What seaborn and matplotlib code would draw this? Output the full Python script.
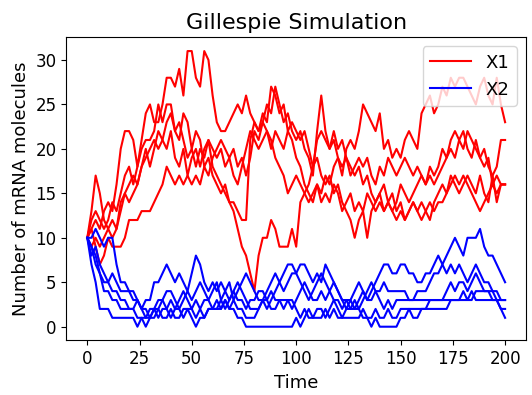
import matplotlib
matplotlib.use("Agg")
import matplotlib.pyplot as plt
import seaborn as sns
import pandas as pd

# sample times shared by every trajectory
time = list(range(0, 201, 2))

# X1 (mRNA species 1) trajectories
x1_run1 = [10, 11, 12, 11, 13, 14, 13, 16, 20, 22,
           22, 21, 18, 21, 24, 25, 23, 23, 25, 28,
           28, 27, 29, 26, 31, 31, 28, 27, 31, 30,
           26, 23, 22, 22, 23, 24, 25, 24, 26, 24,
           23, 22, 24, 23, 27, 26, 24, 25, 22, 23,
           22, 21, 22, 20, 18, 19, 17, 16, 17, 15,
           16, 14, 13, 12, 10, 12, 13, 10, 13, 14,
           15, 13, 14, 13, 14, 16, 15, 14, 15, 16,
           17, 16, 18, 17, 18, 20, 19, 21, 22, 21,
           22, 20, 19, 21, 19, 18, 19, 16, 17, 16,
           16]
x1_run2 = [10, 12, 13, 12, 11, 12, 14, 13, 15, 17,
           18, 16, 18, 20, 21, 21, 22, 25, 23, 25,
           25, 22, 21, 24, 23, 20, 22, 21, 18, 19,
           17, 16, 15, 16, 14, 14, 13, 12, 12, 21,
           23, 22, 23, 25, 24, 27, 25, 23, 24, 22,
           21, 22, 20, 19, 17, 22, 26, 22, 20, 21,
           19, 17, 20, 21, 20, 22, 25, 24, 23, 22,
           24, 20, 21, 19, 20, 19, 21, 22, 21, 20,
           24, 25, 26, 24, 25, 27, 26, 28, 27, 28,
           28, 27, 26, 25, 27, 28, 26, 25, 28, 25,
           23]
x1_run3 = [10, 9, 10, 9, 10, 11, 10, 11, 13, 15,
           14, 15, 16, 18, 19, 20, 21, 20, 21, 23,
           24, 22, 23, 21, 19, 20, 18, 20, 19, 21,
           18, 17, 16, 15, 14, 13, 11, 9, 8, 6,
           4, 8, 10, 10, 12, 11, 9, 9, 9, 11,
           9, 14, 15, 16, 18, 21, 22, 21, 20, 22,
           20, 21, 19, 18, 17, 18, 16, 17, 15, 14,
           15, 16, 14, 15, 13, 14, 12, 13, 14, 13,
           14, 13, 12, 14, 15, 16, 15, 17, 16, 15,
           16, 17, 16, 15, 17, 15, 14, 17, 18, 21,
           21]
x1_run4 = [10, 11, 9, 7, 8, 10, 9, 9, 9, 10,
           12, 12, 12, 13, 13, 13, 14, 15, 16, 18,
           17, 16, 17, 16, 17, 16, 17, 16, 18, 17,
           19, 20, 21, 20, 19, 20, 18, 19, 17, 19,
           22, 21, 23, 22, 20, 22, 21, 20, 22, 21,
           19, 18, 16, 15, 14, 16, 14, 15, 14, 16,
           15, 13, 14, 15, 13, 14, 13, 15, 14, 13,
           14, 13, 14, 13, 12, 13, 12, 13, 14, 13,
           12, 13, 14, 13, 14, 14, 15, 16, 17, 16,
           17, 16, 15, 14, 13, 14, 15, 16, 15, 16,
           16]
x1_run5 = [10, 13, 17, 15, 12, 11, 12, 11, 14, 15,
           16, 17, 16, 18, 20, 18, 20, 22, 21, 20,
           22, 19, 18, 20, 17, 19, 20, 18, 20, 21,
           20, 19, 20, 18, 19, 17, 16, 18, 20, 22,
           21, 20, 21, 22, 21, 19, 18, 17, 15, 16,
           17, 16, 15, 14, 15, 16, 15, 17, 16, 18,
           19, 18, 19, 17, 18, 19, 18, 19, 17, 16,
           18, 17, 19, 18, 17, 18, 19, 18, 17, 18,
           17, 16, 17, 16, 17, 18, 19, 20, 19, 21,
           20, 22, 21, 20, 19, 20, 18, 17, 14, 16,
           16]

# X2 (mRNA species 2) trajectories
x2_run1 = [10, 10, 11, 10, 9, 10, 10, 7, 5, 5,
           4, 3, 3, 2, 3, 3, 5, 5, 6, 7,
           6, 5, 6, 5, 4, 6, 8, 7, 5, 4,
           5, 4, 5, 4, 5, 3, 4, 5, 6, 5,
           4, 3, 3, 4, 5, 6, 5, 6, 7, 7,
           6, 7, 7, 6, 5, 6, 5, 7, 6, 5,
           4, 3, 2, 3, 2, 3, 4, 3, 4, 5,
           6, 7, 7, 6, 6, 7, 7, 6, 6, 5,
           5, 6, 6, 7, 8, 7, 8, 9, 10, 9,
           8, 10, 10, 10, 11, 9, 8, 8, 7, 6,
           5]
x2_run2 = [10, 7, 5, 2, 2, 2, 1, 1, 1, 1,
           1, 1, 0, 1, 1, 2, 2, 1, 2, 2,
           3, 2, 2, 1, 2, 1, 0, 1, 1, 2,
           2, 3, 2, 3, 2, 2, 1, 1, 0, 0,
           0, 0, 0, 0, 0, 0, 0, 0, 0, 0,
           1, 0, 1, 2, 1, 2, 2, 1, 2, 3,
           2, 1, 2, 2, 3, 2, 1, 1, 0, 1,
           0, 0, 0, 0, 0, 1, 1, 2, 1, 1,
           2, 2, 2, 2, 2, 2, 2, 3, 3, 3,
           3, 3, 3, 4, 4, 4, 4, 4, 3, 2,
           2]
x2_run3 = [10, 9, 8, 6, 5, 5, 4, 4, 3, 3,
           2, 2, 3, 2, 1, 1, 2, 3, 3, 2,
           1, 2, 3, 4, 3, 2, 3, 2, 1, 2,
           2, 2, 3, 4, 3, 4, 3, 3, 2, 3,
           3, 4, 4, 3, 4, 3, 3, 2, 3, 2,
           3, 4, 5, 4, 3, 3, 4, 3, 4, 3,
           3, 2, 3, 3, 4, 5, 4, 3, 3, 4,
           3, 2, 3, 2, 3, 3, 3, 3, 3, 3,
           3, 3, 3, 3, 3, 3, 4, 5, 4, 5,
           5, 4, 5, 6, 5, 4, 4, 3, 3, 2,
           1]
x2_run4 = [10, 8, 9, 7, 6, 5, 6, 5, 4, 4,
           4, 4, 3, 2, 2, 1, 1, 2, 3, 4,
           4, 3, 2, 3, 4, 3, 4, 5, 4, 3,
           4, 5, 3, 2, 3, 4, 5, 4, 3, 2,
           2, 2, 3, 2, 3, 4, 5, 4, 5, 6,
           6, 5, 4, 3, 4, 5, 6, 5, 4, 5,
           4, 3, 3, 2, 2, 2, 3, 4, 5, 4,
           4, 5, 4, 4, 4, 4, 4, 3, 3, 4,
           4, 4, 5, 6, 6, 7, 6, 7, 6, 7,
           6, 5, 6, 7, 6, 5, 5, 4, 4, 3,
           3]
x2_run5 = [10, 9, 7, 6, 4, 4, 3, 3, 2, 2,
           2, 2, 1, 1, 0, 1, 2, 2, 1, 1,
           2, 1, 1, 2, 2, 2, 1, 2, 3, 3,
           2, 2, 2, 3, 2, 3, 2, 2, 1, 1,
           1, 2, 3, 3, 2, 2, 3, 3, 3, 3,
           2, 1, 2, 1, 1, 1, 1, 2, 1, 2,
           1, 1, 1, 1, 1, 1, 2, 1, 1, 2,
           1, 1, 2, 1, 1, 2, 2, 2, 2, 2,
           2, 2, 3, 3, 3, 3, 3, 3, 3, 3,
           4, 3, 4, 3, 3, 3, 3, 3, 3, 3,
           3]

x1_runs = [x1_run1, x1_run2, x1_run3, x1_run4, x1_run5]
x2_runs = [x2_run1, x2_run2, x2_run3, x2_run4, x2_run5]

fig = plt.figure(figsize=(5.32, 3.95), dpi=100)
ax = fig.add_axes([0.1248, 0.138, 0.8639, 0.7676])

for species, runs, color in (("X1", x1_runs, "red"), ("X2", x2_runs, "blue")):
    for i, values in enumerate(runs):
        df = pd.DataFrame({"Time": time, "count": values})
        sns.lineplot(data=df, x="Time", y="count", color=color, lw=1.5,
                     estimator=None, sort=False, ax=ax,
                     label=species if i == 0 else None, legend=False)

ax.set_xticks([0, 25, 50, 75, 100, 125, 150, 175, 200])
ax.set_yticks([0, 5, 10, 15, 20, 25, 30])
ax.tick_params(labelsize=12)
ax.set_title("Gillespie Simulation", fontsize=16)
ax.set_xlabel("Time", fontsize=13)
ax.set_ylabel("Number of mRNA molecules", fontsize=13)
ax.legend(loc="upper right", fontsize=13, handlelength=2.3)

fig.savefig("out.png", dpi=100)
